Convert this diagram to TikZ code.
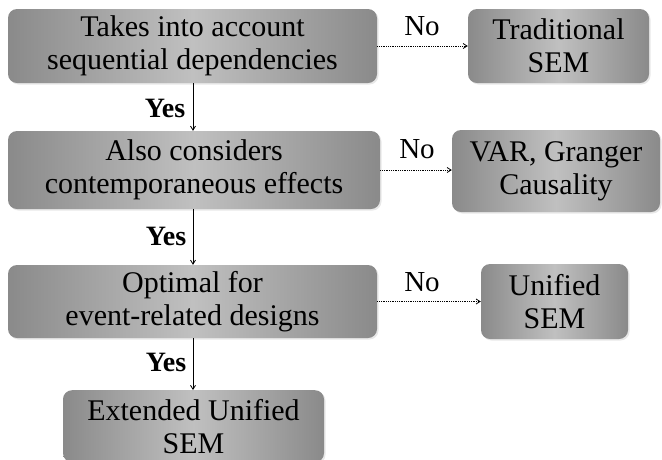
\documentclass[tikz,border=0pt]{standalone}
\usepackage{fontspec}
\setmainfont{Liberation Serif}
\usetikzlibrary{shadows,arrows.meta}
\definecolor{boxedge}{HTML}{8A8A8A}
\definecolor{boxmid}{HTML}{C0C0C0}
\begin{document}
\begin{tikzpicture}[x=1pt,y=-1pt,
  box/.style={rounded corners=9pt, left color=boxedge, right color=boxedge, middle color=boxmid,
    align=center, inner sep=0pt, text=black,
    font=\fontsize{30}{33}\selectfont,
    drop shadow={opacity=0.18, shadow xshift=1.5pt, shadow yshift=-1.5pt}},
  yesarrow/.style={line width=0.8pt, -{Straight Barb[length=4pt,width=5pt]}},
  noarrow/.style={line width=0.8pt, densely dotted, -{Straight Barb[length=4pt,width=5pt]}},
  yeslbl/.style={font=\fontsize{28}{30}\selectfont\bfseries, inner sep=0pt},
  nolbl/.style={font=\fontsize{29}{30}\selectfont, inner sep=0pt}]
\clip (0,0) rectangle (662,459);
\fill[white] (0,0) rectangle (662,459);
% main column
\node[box, minimum width=369pt, minimum height=74pt] (b1) at (192.5,46) {Takes into account\\sequential dependencies};
\node[box, minimum width=372pt, minimum height=78pt] (b2) at (194,170) {Also considers\\contemporaneous effects};
\node[box, minimum width=369pt, minimum height=73pt] (b3) at (192.5,301.5) {Optimal for\\event-related designs};
\node[box, minimum width=261pt, minimum height=72pt, anchor=north] (b4) at (193.5,390) {Extended Unified\\SEM};
% right column
\node[box, minimum width=181pt, minimum height=74pt] (t1) at (558.5,46) {Traditional\\SEM};
\node[box, minimum width=208pt, minimum height=82pt] (t2) at (556,171) {VAR, Granger\\Causality};
\node[box, minimum width=147pt, minimum height=75pt] (t3) at (554.5,301.5) {Unified\\SEM};
% yes arrows
\coordinate (y1) at (193,83);
\coordinate (y2) at (193,209);
\coordinate (y3) at (193,338);
\draw[yesarrow] (y1) -- (y1 |- b2.north);
\draw[yesarrow] (y2) -- (y2 |- b3.north);
\draw[yesarrow] (y3) -- (y3 |- b4.north);
\node[yeslbl] (l1) at (165,108) {Yes};
\node[yeslbl] (l2) at (166,236) {Yes};
\node[yeslbl] (l3) at (166,362) {Yes};
% no arrows
\draw[noarrow] (b1.east) -- (b1.east -| t1.west);
\draw[noarrow] (b2.east) -- (b2.east -| t2.west);
\draw[noarrow] (b3.east) -- (b3.east -| t3.west);
\node[nolbl] (n1) at (422,26) {No};
\node[nolbl] (n2) at (417,149) {No};
\node[nolbl] (n3) at (422,282) {No};
\end{tikzpicture}
\end{document}
